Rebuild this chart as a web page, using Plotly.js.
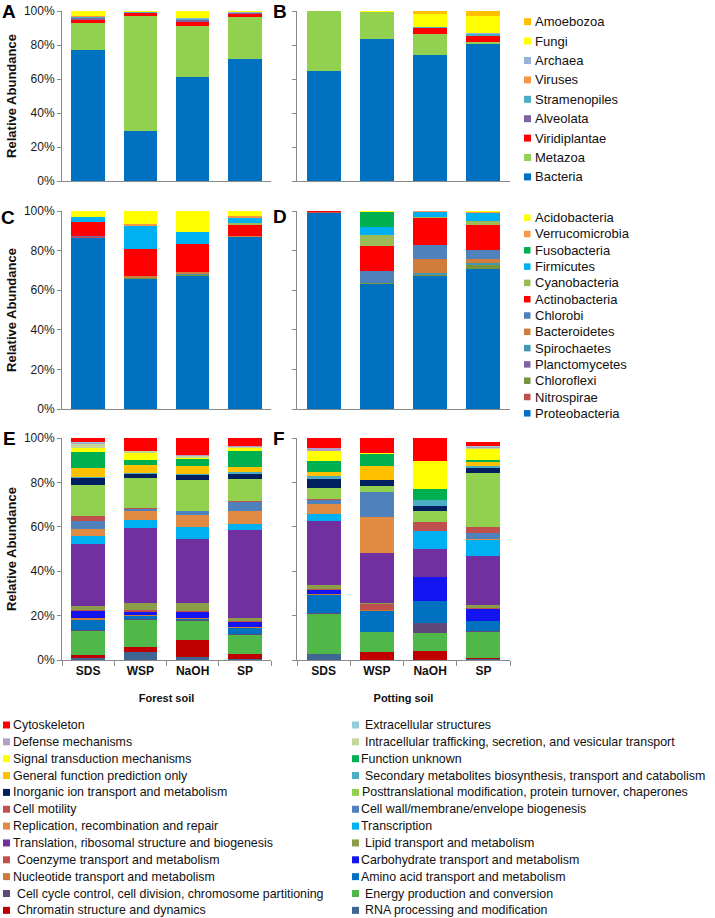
<!DOCTYPE html>
<html><head><meta charset="utf-8">
<script src="https://cdn.plot.ly/plotly-3.0.1.min.js"></script>
<style>html,body{margin:0;padding:0;background:#fff}#chart{width:715px;height:918px}</style>
</head><body><div id="chart"></div>
<script>
const samples = ['SDS', 'WSP', 'NaOH', 'SP'];

// ---- Kingdom level (A: forest soil, B: potting soil), bottom -> top ----
const kingdoms = ['Bacteria', 'Metazoa', 'Viridiplantae', 'Alveolata', 'Stramenopiles', 'Viruses', 'Archaea', 'Fungi', 'Amoebozoa'];
const kingdomColors = ['#0070C0', '#92D050', '#FF0000', '#8064A2', '#4BACC6', '#F79646', '#95B3D7', '#FFFF00', '#FFC000'];
const kingdomForest = [
  [77.0, 29.4, 61.0, 71.8],
  [16.0, 67.6, 30.4, 24.7],
  [1.8, 1.6, 2.3, 1.9],
  [0.8, 0.4, 1.0, 0.4],
  [0.7, 0.2, 0.5, 0.3],
  [0.5, 0.0, 0.3, 0.0],
  [0.3, 0.0, 0.2, 0.3],
  [2.9, 0.8, 4.3, 0.6],
  [0.0, 0.0, 0.0, 0.0]
];
const kingdomPotting = [
  [64.7, 83.4, 74.4, 80.5],
  [35.3, 15.8, 11.9, 1.0],
  [0.0, 0.4, 3.5, 3.9],
  [0.0, 0.0, 0.0, 0.0],
  [0.0, 0.0, 0.7, 1.0],
  [0.0, 0.0, 0.0, 0.0],
  [0.0, 0.0, 0.3, 0.5],
  [0.0, 0.4, 7.7, 10.0],
  [0.0, 0.0, 1.5, 3.1]
];

// ---- Phylum level (C: forest soil, D: potting soil), bottom -> top ----
const phyla = ['Proteobacteria', 'Nitrospirae', 'Chloroflexi', 'Planctomycetes', 'Spirochaetes', 'Bacteroidetes', 'Chlorobi', 'Actinobacteria', 'Cyanobacteria', 'Firmicutes', 'Fusobacteria', 'Verrucomicrobia', 'Acidobacteria'];
const phylumColors = ['#0070C0', '#C0504D', '#77933C', '#8064A2', '#4198AF', '#CF7C3C', '#4F81BD', '#FF0000', '#9BBB59', '#00B0F0', '#00B050', '#F79646', '#FFFF00'];
const phylumForest = [
  [86.2, 65.7, 67.3, 87.0],
  [0.5, 0.0, 0.0, 0.0],
  [0.0, 0.4, 0.6, 0.0],
  [0.5, 0.0, 0.0, 0.0],
  [0.0, 0.0, 0.5, 0.0],
  [0.0, 0.9, 0.6, 0.5],
  [0.0, 0.0, 0.0, 0.0],
  [7.1, 13.8, 14.3, 5.6],
  [0.3, 0.0, 0.0, 1.0],
  [2.2, 11.5, 6.2, 2.4],
  [0.0, 0.0, 0.0, 0.0],
  [0.4, 0.9, 0.0, 0.8],
  [2.8, 6.8, 10.5, 2.7]
];
const phylumPotting = [
  [99.2, 63.1, 67.2, 70.9],
  [0.3, 0.0, 0.0, 0.0],
  [0.0, 0.5, 0.6, 1.7],
  [0.0, 0.0, 0.0, 0.0],
  [0.0, 0.0, 0.7, 1.0],
  [0.0, 0.0, 7.1, 2.0],
  [0.0, 6.1, 7.2, 4.7],
  [0.5, 12.5, 13.8, 12.5],
  [0.0, 5.9, 0.3, 2.2],
  [0.0, 3.7, 2.5, 3.8],
  [0.0, 7.9, 0.0, 0.0],
  [0.0, 0.0, 0.6, 0.8],
  [0.0, 0.3, 0.0, 0.4]
];

// ---- COG functional categories (E: forest soil, F: potting soil), bottom -> top ----
const cogs = ['RNA processing and modification', 'Chromatin structure and dynamics', 'Energy production and conversion',
  'Cell cycle control, cell division, chromosome partitioning', 'Amino acid transport and metabolism',
  'Nucleotide transport and metabolism', 'Carbohydrate transport and metabolism', 'Coenzyme transport and metabolism',
  'Lipid transport and metabolism', 'Translation, ribosomal structure and biogenesis', 'Transcription',
  'Replication, recombination and repair', 'Cell wall/membrane/envelope biogenesis', 'Cell motility',
  'Posttranslational modification, protein turnover, chaperones', 'Inorganic ion transport and metabolism',
  'Secondary metabolites biosynthesis, transport and catabolism', 'General function prediction only',
  'Function unknown', 'Signal transduction mechanisms', 'Intracellular trafficking, secretion, and vesicular transport',
  'Defense mechanisms', 'Extracellular structures', 'Cytoskeleton'];
const cogColors = ['#3F6592', '#C00000', '#50B848', '#5F497A', '#0070C0', '#CD7B35', '#1414F0', '#C0504D',
  '#8C9D4A', '#7030A0', '#00B0F0', '#E08A42', '#4F81BD', '#C0504D', '#92D050', '#002060', '#4BACC6',
  '#FFC000', '#00B050', '#FFFF00', '#C4D79B', '#B1A0C7', '#92CDDC', '#FF0000'];
const cogIndented = ['RNA processing and modification', 'Chromatin structure and dynamics', 'Energy production and conversion',
  'Cell cycle control, cell division, chromosome partitioning', 'Coenzyme transport and metabolism',
  'Lipid transport and metabolism', 'Secondary metabolites biosynthesis, transport and catabolism',
  'Intracellular trafficking, secretion, and vesicular transport', 'Extracellular structures'];
const cogForest = [
  [1.0, 3.8, 1.5, 0.3],
  [1.3, 2.2, 7.5, 2.3],
  [10.8, 12.0, 8.6, 8.7],
  [0.5, 0.3, 0.3, 0.6],
  [4.3, 1.5, 0.5, 2.4],
  [1.1, 0.5, 0.4, 0.6],
  [3.0, 1.5, 2.7, 2.0],
  [0.7, 0.6, 0.7, 0.7],
  [1.5, 3.2, 3.3, 1.2],
  [28.2, 33.8, 29.0, 39.7],
  [3.3, 3.6, 5.6, 2.7],
  [3.2, 3.9, 5.0, 6.0],
  [3.9, 1.1, 1.9, 3.8],
  [2.0, 0.3, 0.3, 0.7],
  [14.2, 13.5, 14.0, 9.8],
  [3.0, 2.0, 2.0, 2.5],
  [0.5, 0.4, 0.3, 0.7],
  [4.1, 3.6, 3.8, 2.3],
  [7.2, 2.3, 3.0, 7.2],
  [1.5, 3.0, 0.7, 1.2],
  [1.9, 0.9, 0.7, 0.6],
  [0.6, 0.3, 0.7, 0.3],
  [0.2, 0.0, 0.0, 0.0],
  [2.0, 5.7, 7.5, 3.7]
];
const cogPotting = [
  [2.6, 0.0, 0.0, 0.3],
  [0.0, 3.5, 4.0, 0.8],
  [18.2, 8.9, 8.0, 11.5],
  [0.3, 0.0, 4.8, 0.3],
  [8.0, 9.8, 9.8, 4.5],
  [0.6, 0.3, 0.0, 0.3],
  [2.0, 0.0, 10.7, 5.5],
  [0.3, 2.7, 0.0, 0.3],
  [2.0, 0.7, 0.0, 1.2],
  [28.6, 22.2, 12.8, 22.3],
  [3.3, 0.0, 8.1, 7.0],
  [4.2, 16.4, 0.0, 0.3],
  [2.0, 11.0, 0.0, 2.8],
  [0.3, 0.0, 3.8, 2.8],
  [5.3, 3.0, 5.3, 24.2],
  [3.8, 2.6, 2.2, 2.3],
  [1.5, 0.0, 2.7, 1.2],
  [1.5, 6.5, 0.0, 1.5],
  [5.3, 5.0, 4.8, 1.2],
  [4.2, 0.7, 12.8, 4.8],
  [0.3, 0.0, 0.0, 0.5],
  [1.2, 0.0, 0.0, 0.3],
  [0.0, 0.0, 0.0, 0.3],
  [4.5, 6.6, 10.2, 1.8]
];

// ---------------- figure construction ----------------
const W = 715, H = 918;
const FONT = 'Liberation Sans, Arial, Helvetica, sans-serif';
const px = x => x / W;
const py = y => 1 - y / H;

const colX = [[62, 271], [297, 510]];
const rowY = [[11, 181], [211, 409], [438, 660]];

const traces = [];
function addPanel(names, colors, matrix, axisNum) {
  const xa = axisNum === 1 ? 'x' : 'x' + axisNum;
  const ya = axisNum === 1 ? 'y' : 'y' + axisNum;
  names.forEach((n, i) => {
    traces.push({
      type: 'bar', name: n, x: samples, y: matrix[i], xaxis: xa, yaxis: ya,
      marker: {color: colors[i], line: {width: 0}}, showlegend: false,
      hovertemplate: n + '<br>%{x}: %{y:.1f}%<extra></extra>'
    });
  });
}
addPanel(kingdoms, kingdomColors, kingdomForest, 1);
addPanel(kingdoms, kingdomColors, kingdomPotting, 2);
addPanel(phyla, phylumColors, phylumForest, 3);
addPanel(phyla, phylumColors, phylumPotting, 4);
addPanel(cogs, cogColors, cogForest, 5);
addPanel(cogs, cogColors, cogPotting, 6);

const layout = {
  width: W, height: H,
  margin: {l: 0, r: 0, t: 0, b: 0},
  paper_bgcolor: '#fff', plot_bgcolor: '#fff',
  barmode: 'stack', bargap: 0.36,
  font: {family: FONT, size: 12, color: '#1a1a1a'},
  showlegend: false,
  annotations: [], shapes: []
};

const axisGray = '#8a8a8a';
for (let r = 0; r < 3; r++) {
  for (let c = 0; c < 2; c++) {
    const n = r * 2 + c + 1;
    const xk = n === 1 ? 'xaxis' : 'xaxis' + n;
    const yk = n === 1 ? 'yaxis' : 'yaxis' + n;
    const bottom = r === 2;
    layout[xk] = {
      domain: [px(colX[c][0]), px(colX[c][1])],
      anchor: n === 1 ? 'y' : 'y' + n,
      type: 'category', categoryorder: 'array', categoryarray: samples,
      showline: true, linecolor: axisGray, linewidth: 1,
      showgrid: false, zeroline: false,
      ticks: bottom ? 'outside' : '', tickson: 'boundaries', ticklen: 5, tickcolor: axisGray,
      showticklabels: bottom,
      tickfont: {size: 12, weight: 'bold', color: '#111'},
      fixedrange: true
    };
    if (bottom) {
      layout[xk].title = {text: c === 0 ? 'Forest soil' : 'Potting soil',
        font: {size: 11, weight: 'bold', color: '#111'}, standoff: 16};
    }
    layout[yk] = {
      domain: [py(rowY[r][1]), py(rowY[r][0])],
      anchor: n === 1 ? 'x' : 'x' + n,
      range: [0, 100],
      tickvals: [0, 20, 40, 60, 80, 100],
      ticktext: ['0%', '20%', '40%', '60%', '80%', '100%'],
      showticklabels: c === 0,
      ticks: 'outside', ticklen: 4, tickcolor: axisGray,
      showline: true, linecolor: axisGray, linewidth: 1,
      showgrid: false, zeroline: false,
      tickfont: {size: 12, color: '#1a1a1a'},
      fixedrange: true
    };
    if (c === 0) {
      layout[yk].title = {text: 'Relative Abundance', font: {size: 13, weight: 'bold', color: '#111'}, standoff: 4};
    }
  }
}

// panel letters
const letters = ['A', 'B', 'C', 'D', 'E', 'F'];
const letterPos = [[9, 12], [280, 12], [8, 217], [280, 216], [9, 439], [279, 438]];
letters.forEach((L, i) => {
  layout.annotations.push({
    text: L, xref: 'paper', yref: 'paper', x: px(letterPos[i][0]), y: py(letterPos[i][1]),
    xanchor: 'center', yanchor: 'middle', showarrow: false,
    font: {size: 19, weight: 'bold', color: '#000'}
  });
});

// legend helper: swatch + text, listed top -> bottom in reverse stacking order
function legendItem(label, color, sx, sy, size, tx, fsize) {
  layout.shapes.push({
    type: 'rect', xref: 'paper', yref: 'paper',
    x0: px(sx), x1: px(sx + size), y0: py(sy + size / 2), y1: py(sy - size / 2),
    fillcolor: color, line: {width: 0}
  });
  layout.annotations.push({
    text: label, xref: 'paper', yref: 'paper', x: px(tx), y: py(sy),
    xanchor: 'left', yanchor: 'middle', showarrow: false,
    font: {size: fsize, color: '#111'}
  });
}
// kingdom legend
kingdoms.slice().reverse().forEach((k, j) => {
  const idx = kingdoms.length - 1 - j;
  legendItem(k, kingdomColors[idx], 524, 21.7 + j * 19.4, 7, 533, 13);
});
// phylum legend
phyla.slice().reverse().forEach((k, j) => {
  const idx = phyla.length - 1 - j;
  legendItem(k, phylumColors[idx], 524, 217.7 + j * 16.3, 6.5, 533, 13);
});
// COG legend: two columns, filled row by row
cogs.slice().reverse().forEach((k, j) => {
  const idx = cogs.length - 1 - j;
  const row = Math.floor(j / 2), col = j % 2;
  const sx = col === 0 ? 3 : 352;
  const tx = (col === 0 ? 11 : 359.5) + (cogIndented.includes(k) ? 3.5 : 0);
  legendItem(k, cogColors[idx], sx, 725 + row * 16.85, 7, tx, 12.4);
});

Plotly.newPlot('chart', traces, layout, {displayModeBar: false, staticPlot: true});
</script>
</body></html>
